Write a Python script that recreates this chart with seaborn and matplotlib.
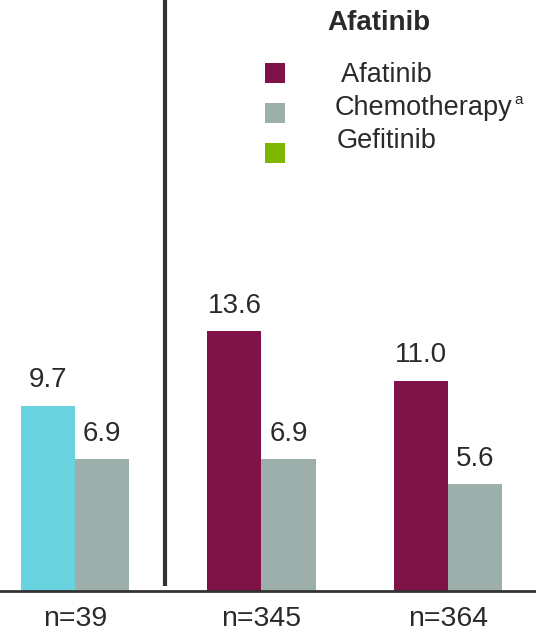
import matplotlib
matplotlib.use("Agg")
import matplotlib.pyplot as plt
import seaborn as sns
import pandas as pd
from matplotlib.patches import Rectangle

# Median PFS (months) per trial population
groups = ["n=39", "n=345", "n=364"]
treatment_values = [9.7, 13.6, 11.0]
chemo_values = [6.9, 6.9, 5.6]

treatment_colors = ["#68D3DF", "#7F1348", "#7F1348"]
chemo_color = "#9DAFAB"

legend_title = "Afatinib"
legend_labels = [" Afatinib", "Chemotherapy", "Gefitinib"]
legend_colors = ["#7F1348", "#9DAFAB", "#7DB700"]

df = pd.DataFrame({
    "group": groups * 2,
    "value": treatment_values + chemo_values,
    "arm": ["Treatment"] * len(groups) + ["Chemotherapy"] * len(groups),
})

sns.set_theme(style="white")
plt.rcParams["font.family"] = ["Liberation Sans", "DejaVu Sans"]

W, H = 536, 637
fig = plt.figure(figsize=(W / 100, H / 100), dpi=100)
ax = fig.add_axes([0, 46 / H, 1, 591 / H])

sns.barplot(data=df, x="group", y="value", hue="arm",
            palette={"Treatment": "#7F1348", "Chemotherapy": chemo_color},
            width=0.58, saturation=1, legend=False, ax=ax)

# first container holds the treatment bars; colour them per population
for patch, color in zip(ax.containers[0], treatment_colors):
    patch.set_facecolor(color)
    patch.set_edgecolor("none")
for patch in ax.containers[1]:
    patch.set_edgecolor("none")

for container in ax.containers:
    ax.bar_label(container, fmt="%.1f", padding=9, fontsize=20, color="#2a2a2a")

ax.set_xlim(-0.402, 2.472)
ax.set_ylim(0, 30.94)
ax.set_xlabel("")
ax.set_ylabel("")
ax.set_yticks([])

for side in ["top", "right", "left"]:
    ax.spines[side].set_visible(False)
ax.spines["bottom"].set_color("#333333")
ax.spines["bottom"].set_linewidth(2)

ax.tick_params(axis="x", which="major", length=0, pad=11, labelsize=20.5, labelcolor="#2a2a2a")
ax.set_xticks([0.472, 1.458], minor=True)
ax.tick_params(axis="x", which="minor", length=7, width=2, color="#333333", direction="out")

# separator between trials
ax.plot([0.483, 0.483], [0.25, 30.94], color="#333333", lw=3, solid_capstyle="butt", clip_on=False)

# legend block
fig.text(379 / W, 1 - 30 / H, legend_title, ha="center", va="baseline",
         fontsize=20, fontweight="bold", color="#2a2a2a")
square_y = [73, 112.5, 153]
label_y = [82, 115, 148]
label_x = [335, 335, 337]
for sy, ly, lx, lab, col in zip(square_y, label_y, label_x, legend_labels, legend_colors):
    fig.patches.append(Rectangle((265 / W, 1 - (sy + 10) / H), 20 / W, 20 / H,
                                 transform=fig.transFigure, facecolor=col, edgecolor="none"))
    fig.text(lx / W, 1 - ly / H, lab, ha="left", va="baseline",
             fontsize=19.5, color="#2a2a2a")
fig.text(514 / W, 1 - 104 / H, "a", ha="left", va="baseline", fontsize=11, color="#2a2a2a")

fig.savefig("out.png", dpi=100)
